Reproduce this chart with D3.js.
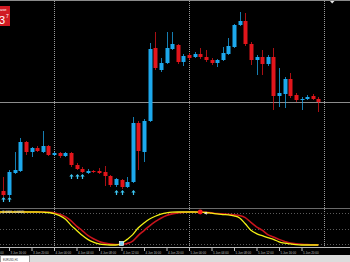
<!DOCTYPE html>
<html>
    <head>
        <title>EURUSD H1</title>
        <meta charset="UTF-8">
        <script src="https://d3js.org/d3.v7.min.js"></script>
        <style>
            body { margin: 0; background: #000; }
            svg { display: block; font-family: 'Liberation Sans', Arial, sans-serif; }
            .axis path { display: none; }
            .axis line { stroke: #bbb; }
            .axis text { fill: #bbb; font-size: 3px; }
        </style>
    </head>
    <body>
        <svg width="350" height="262"></svg>
        <script>
            // bar index 0 = 4 Jun 00:00, one bar per hour
            var barStart = -9;
            var opens  = [1.1259, 1.1255, 1.1277, 1.1279, 1.1308, 1.1298, 1.1302, 1.1298, 1.1304,
                          1.1295, 1.1297, 1.1294, 1.1297, 1.1285, 1.1281, 1.1277, 1.1279, 1.1279, 1.1278,
                          1.1274, 1.1265, 1.1270, 1.1263, 1.1268, 1.1327, 1.1298, 1.1329, 1.1402, 1.1380,
                          1.1387, 1.1401, 1.1405, 1.1388, 1.1395, 1.1393, 1.1396, 1.1393, 1.1390, 1.1387,
                          1.1390, 1.1396, 1.1403, 1.1425, 1.1429, 1.1406, 1.1390, 1.1393, 1.1386, 1.1393,
                          1.1354, 1.1356, 1.1371, 1.1355, 1.1350, 1.1351, 1.1354, 1.1351];
            var highs  = [1.1273, 1.1280, 1.1298, 1.1312, 1.1309, 1.1303, 1.1304, 1.1319, 1.1305,
                          1.1298, 1.1298, 1.1298, 1.1298, 1.1287, 1.1283, 1.1281, 1.1280, 1.1282, 1.1284,
                          1.1275, 1.1272, 1.1271, 1.1273, 1.1333, 1.1329, 1.1331, 1.1407, 1.1418, 1.1392,
                          1.1418, 1.1418, 1.1406, 1.1396, 1.1397, 1.1398, 1.1402, 1.1400, 1.1392, 1.1391,
                          1.1403, 1.1412, 1.1426, 1.1438, 1.1437, 1.1408, 1.1395, 1.1400, 1.1395, 1.1402,
                          1.1382, 1.1373, 1.1377, 1.1357, 1.1353, 1.1355, 1.1356, 1.1353];
            var lows   = [1.1253, 1.1253, 1.1276, 1.1278, 1.1295, 1.1293, 1.1298, 1.1297, 1.1294,
                          1.1294, 1.1292, 1.1293, 1.1283, 1.1280, 1.1277, 1.1276, 1.1277, 1.1276, 1.1264,
                          1.1263, 1.1263, 1.1261, 1.1262, 1.1267, 1.1280, 1.1288, 1.1328, 1.1380, 1.1378,
                          1.1386, 1.1400, 1.1386, 1.1384, 1.1390, 1.1392, 1.1391, 1.1388, 1.1385, 1.1383,
                          1.1389, 1.1395, 1.1402, 1.1424, 1.1404, 1.1385, 1.1375, 1.1375, 1.1384, 1.1340,
                          1.1343, 1.1342, 1.1352, 1.1348, 1.1340, 1.1350, 1.1350, 1.1338];
            var closes = [1.1255, 1.1278, 1.1280, 1.1308, 1.1298, 1.1302, 1.1299, 1.1304, 1.1295,
                          1.1297, 1.1294, 1.1297, 1.1285, 1.1281, 1.1278, 1.1279, 1.1278, 1.1277, 1.1274,
                          1.1265, 1.1271, 1.1263, 1.1268, 1.1327, 1.1299, 1.1329, 1.1401, 1.1382, 1.1387,
                          1.1402, 1.1406, 1.1388, 1.1394, 1.1392, 1.1396, 1.1393, 1.1390, 1.1387, 1.1390,
                          1.1397, 1.1404, 1.1425, 1.1429, 1.1406, 1.1390, 1.1393, 1.1386, 1.1393, 1.1354,
                          1.1357, 1.1371, 1.1354, 1.1350, 1.1351, 1.1353, 1.1351, 1.1348];

            // signal arrows under bars
            var arrowBars   = [-9, -8, 3, 4, 5, 11, 12, 14];
            var arrowPrices = [1.1253, 1.1253, 1.1276, 1.1276, 1.1276, 1.1260, 1.1260, 1.1260];

            // sub window oscillator, starts one bar earlier
            var oscStart = -10;
            var fastLine = [98.5, 98.5, 98.5, 98.5, 98.5, 98.5, 98.5, 98.5, 98, 97,
                            94, 88, 78, 60, 45, 30, 18, 10, 5, 2.5,
                            1.5, 1.5, 6, 18, 32, 52, 66, 78, 86, 92,
                            96, 98, 98.5, 98.5, 98.5, 98.5, 98, 97, 95, 93,
                            91, 90, 87, 81, 64, 45, 35, 29, 23, 18,
                            11, 7, 4.5, 2.5, 1.5, 1.5, 1.5, 1.5];
            var slowLine = [98.5, 98.5, 98.5, 98.5, 98.5, 98.5, 98.5, 98.5, 98.5, 98,
                            96.5, 92, 85, 73, 57, 44, 30, 20, 12, 7,
                            4, 3, 3.5, 6, 13, 30, 44, 58, 70, 80,
                            88, 93, 96, 97.5, 98.5, 98.5, 98.5, 97.5, 96, 94,
                            93, 92, 90, 88, 82, 68, 55, 45, 32, 25,
                            18, 12, 7, 5, 3.5, 2.5, 2, 1.5];
            var levels = [95, 50, 5];

            var tickBars   = [-12, -8, -4, 0, 4, 8, 12, 16, 20, 24, 28, 32, 36, 40, 44];
            var tickLabels = ['3 Jun 12:00', '3 Jun 16:00', '3 Jun 20:00', '4 Jun 00:00', '4 Jun 04:00',
                              '4 Jun 08:00', '4 Jun 12:00', '4 Jun 16:00', '4 Jun 20:00', '5 Jun 00:00',
                              '5 Jun 04:00', '5 Jun 08:00', '5 Jun 12:00', '5 Jun 16:00', '5 Jun 20:00'];
            var dayBars = [0, 24, 48];

            var svg = d3.select('svg'),
                W = 350, H = 262,
                mainBottom = 208, subTop = 209, subBottom = 247;

            var x = d3.scaleLinear().domain([0, 24]).range([54, 189]),
                y = d3.scaleLinear().domain([1.1242, 1.1450]).range([mainBottom, 0]),
                ys = d3.scaleLinear().domain([0, 100]).range([245.5, 211.5]);

            var upColor = '#1da8ec', downColor = '#e2151b';

            var bars = opens.map(function(o, i) {
                return { i: i + barStart, o: o, h: highs[i], l: lows[i], c: closes[i] };
            });

            svg.append('rect').attr('width', W).attr('height', H).attr('fill', '#000');

            var defs = svg.append('defs');
            defs.append('clipPath').attr('id', 'clipMain')
              .append('rect').attr('x', 0).attr('y', 1).attr('width', W).attr('height', mainBottom - 1);
            defs.append('clipPath').attr('id', 'clipSub')
              .append('rect').attr('x', 0).attr('y', subTop).attr('width', W).attr('height', subBottom - subTop);

            // frame lines
            svg.append('line').attr('x1', 0).attr('x2', W).attr('y1', 0.5).attr('y2', 0.5)
               .attr('stroke', '#8a8a8a');
            svg.append('line').attr('x1', 0).attr('x2', W).attr('y1', mainBottom + 0.5).attr('y2', mainBottom + 0.5)
               .attr('stroke', '#6a6a6a');

            // period separators
            svg.selectAll('.sep')
               .data(dayBars)
               .enter().append('line')
                 .attr('class', 'sep')
                 .attr('x1', function(d) { return Math.round(x(d)) + 0.5; })
                 .attr('x2', function(d) { return Math.round(x(d)) + 0.5; })
                 .attr('y1', 1).attr('y2', subBottom)
                 .attr('stroke', '#9a9a9a')
                 .attr('stroke-dasharray', '1,1');

            var main = svg.append('g').attr('clip-path', 'url(#clipMain)');

            // bid line at last close
            main.append('line')
               .attr('x1', 0).attr('x2', W)
               .attr('y1', Math.round(y(closes[closes.length - 1])) + 0.5)
               .attr('y2', Math.round(y(closes[closes.length - 1])) + 0.5)
               .attr('stroke', '#8c8c8c');

            var candle = main.selectAll('.candle')
               .data(bars)
               .enter().append('g')
                 .attr('class', 'candle');

            candle.append('line')
               .attr('x1', function(d) { return Math.round(x(d.i)) + 0.5; })
               .attr('x2', function(d) { return Math.round(x(d.i)) + 0.5; })
               .attr('y1', function(d) { return y(d.h); })
               .attr('y2', function(d) { return y(d.l); })
               .attr('stroke', function(d) { return d.c >= d.o ? upColor : downColor; })
               .attr('stroke-opacity', 0.75);

            candle.append('rect')
               .attr('x', function(d) { return Math.round(x(d.i)) - 1.5; })
               .attr('width', 4)
               .attr('y', function(d) { return y(Math.max(d.o, d.c)); })
               .attr('height', function(d) { return Math.max(1, Math.abs(y(d.o) - y(d.c))); })
               .attr('fill', function(d) { return d.c >= d.o ? upColor : downColor; });

            // up arrows
            main.selectAll('.arrow')
               .data(arrowBars)
               .enter().append('path')
                 .attr('class', 'arrow')
                 .attr('transform', function(d, i) {
                     return 'translate(' + (Math.round(x(d)) + 0.5) + ',' + y(arrowPrices[i]) + ')';
                 })
                 .attr('d', 'M0,0L2.2,2.4L0.6,2.4L0.6,5L-0.6,5L-0.6,2.4L-2.2,2.4Z')
                 .attr('fill', '#3cc6f2');

            // chart shift marker
            svg.append('path').attr('d', 'M330,1L334.5,1L332.2,3.5Z').attr('fill', '#e8e8e8');

            // price label box, top left
            svg.append('rect').attr('x', 0).attr('y', 6).attr('width', 10).attr('height', 20)
               .attr('fill', '#d01a22');
            svg.append('text').attr('x', 0).attr('y', 11).attr('fill', '#fff')
               .style('font-size', '4px').text('ase');
            svg.append('text').attr('x', -1).attr('y', 24).attr('fill', '#fff')
               .style('font-size', '11px').text('3');
            svg.append('text').attr('x', 6).attr('y', 18).attr('fill', '#fff')
               .style('font-size', '5px').text('7');

            // sub window
            var sub = svg.append('g').attr('clip-path', 'url(#clipSub)');

            sub.selectAll('.level')
               .data(levels)
               .enter().append('line')
                 .attr('class', 'level')
                 .attr('x1', 0).attr('x2', W)
                 .attr('y1', function(d) { return Math.round(ys(d)) + 0.5; })
                 .attr('y2', function(d) { return Math.round(ys(d)) + 0.5; })
                 .attr('stroke', '#5a5a5a')
                 .attr('stroke-dasharray', '1,2');

            var osc = d3.line()
               .curve(d3.curveMonotoneX)
               .x(function(d, i) { return x(i + oscStart); })
               .y(function(d) { return ys(d); });

            sub.append('path')
               .attr('d', osc(slowLine))
               .attr('fill', 'none')
               .attr('stroke', '#c8141c')
               .attr('stroke-width', 1.6);

            sub.append('path')
               .attr('d', osc(fastLine))
               .attr('fill', 'none')
               .attr('stroke', '#f4f014')
               .attr('stroke-width', 1.3);

            // cross markers
            sub.append('rect')
               .attr('x', x(12) - 2).attr('y', ys(fastLine[12 - oscStart]) - 2)
               .attr('width', 4).attr('height', 4)
               .attr('fill', '#7fd8f6').attr('stroke', '#e8f8ff').attr('stroke-width', 0.7);
            sub.append('circle')
               .attr('cx', x(26)).attr('cy', ys(slowLine[26 - oscStart]))
               .attr('r', 2.4).attr('fill', '#ff1a1a');
            sub.append('path')
               .attr('transform', 'translate(' + (x(26) + 4) + ',' + (ys(fastLine[26 - oscStart]) + 1) + ')')
               .attr('d', 'M0,0L2.5,-1.5L2.5,1.5Z')
               .attr('fill', '#f0f0f0');

            svg.append('text')
               .attr('x', 2).attr('y', 213)
               .attr('fill', '#e0e0e0')
               .style('font-size', '3px')
               .text('(1.0000 -0.0001)');

            svg.append('line').attr('x1', 0).attr('x2', W).attr('y1', subBottom + 0.5).attr('y2', subBottom + 0.5)
               .attr('stroke', '#b8b8b8');

            // time axis
            svg.append('g')
               .attr('class', 'axis')
               .attr('transform', 'translate(0,' + (subBottom + 1) + ')')
               .call(d3.axisBottom(x)
                   .tickValues(tickBars)
                   .tickFormat(function(d, i) { return tickLabels[i]; })
                   .tickSize(3)
                   .tickPadding(1))
               .selectAll('text')
                 .attr('text-anchor', 'start')
                 .attr('dx', '1');

            // tab bar
            svg.append('rect').attr('x', 0).attr('y', 255).attr('width', W).attr('height', 7)
               .attr('fill', '#dcdcdc');
            svg.append('rect').attr('x', 0.5).attr('y', 255.5).attr('width', 29).attr('height', 7)
               .attr('fill', '#fff').attr('stroke', '#9a9a9a');
            svg.append('text').attr('x', 3).attr('y', 260.5).attr('fill', '#333')
               .style('font-size', '2.6px').text('EURUSD,H1');
        </script>
    </body>
</html>
